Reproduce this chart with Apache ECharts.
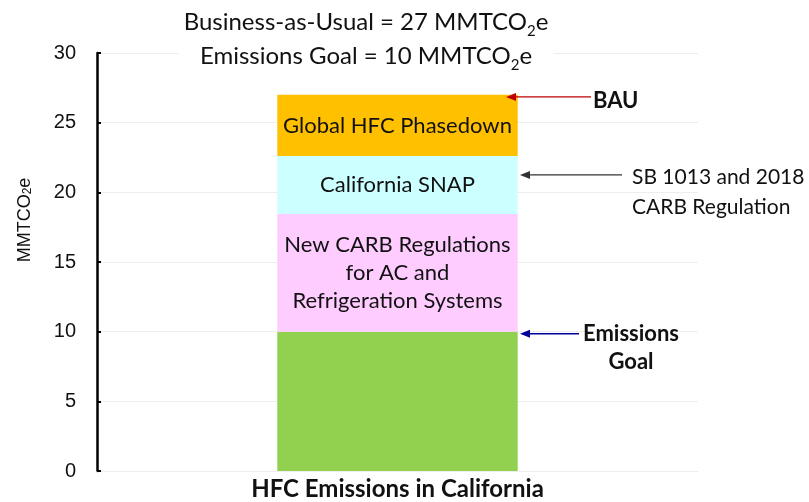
<!DOCTYPE html>
<html>
<head>
<meta charset="utf-8">
<script src="https://cdn.jsdelivr.net/npm/echarts@6/dist/echarts.min.js"></script>
<style>
  html, body { margin: 0; padding: 0; background: #fff; }
  #main { width: 809px; height: 502px; }
</style>
</head>
<body>
<div id="main"></div>
<script>
// categories and stacked segment sizes (MMTCO2e), bottom to top
const categories = ['HFC Emissions in California'];
const segmentNames = ['Emissions Goal', 'New CARB Regulations\nfor AC and\nRefrigeration Systems', 'California SNAP', 'Global HFC Phasedown'];
const segmentValues = [10, 8.45, 4.15, 4.4];
const segmentColors = ['#92D050', '#FFCCFF', '#CCFFFF', '#FFC000'];
const segmentShowLabel = [false, true, true, true];
const yTicks = [0, 5, 10, 15, 20, 25, 30];

// arrow annotations: text, value they point at, colour
const noteTexts = ['{b|BAU}', '{n|SB 1013 and 2018}\n{n|CARB Regulation}', '{b|Emissions}\n{b|Goal}'];
const noteValues = [26.85, 21.25, 9.85];
const noteColors = ['#C00000', '#333333', '#000099'];

const font = 'Lato, "Open Sans", sans-serif';
const arial = '"Liberation Sans", Arial, sans-serif';

const chart = echarts.init(document.getElementById('main'));

const series = segmentNames.map((name, i) => ({
  name: name,
  type: 'bar',
  stack: 'total',
  barWidth: '40%',
  itemStyle: { color: segmentColors[i] },
  label: {
    show: segmentShowLabel[i],
    position: 'inside',
    formatter: '{a}',
    color: '#111',
    fontFamily: font,
    fontSize: 22,
    lineHeight: 28
  },
  data: [segmentValues[i]]
}));

const option = {
  animation: false,
  title: {
    text: 'Business-as-Usual = 27 MMTCO{s|2}e\nEmissions Goal = 10 MMTCO{s|2}e',
    left: 361,
    top: 3,
    textAlign: 'center',
    padding: [2, 5],
    backgroundColor: '#fff',
    textStyle: {
      fontFamily: font,
      fontSize: 24,
      fontWeight: 'normal',
      color: '#111',
      lineHeight: 34,
      rich: {
        s: { fontFamily: font, fontSize: 15, verticalAlign: 'bottom', lineHeight: 24, color: '#111' }
      }
    }
  },
  grid: { left: 97, right: 111, top: 53, bottom: 31 },
  xAxis: {
    type: 'category',
    data: categories,
    axisLine: { lineStyle: { color: '#eeeeee', width: 1 } },
    axisTick: { show: false },
    axisLabel: {
      margin: 6,
      color: '#111',
      fontFamily: font,
      fontSize: 24,
      fontWeight: 'bold'
    }
  },
  yAxis: {
    type: 'value',
    min: 0,
    max: 30,
    interval: 5,
    name: 'MMTCO{s|2}e',
    nameLocation: 'middle',
    nameRotate: 90,
    nameGap: 63,
    nameTextStyle: {
      fontFamily: arial,
      fontSize: 18,
      color: '#111',
      padding: [0, 0, 0, 84],
      rich: {
        s: { fontFamily: arial, fontSize: 12, color: '#111', verticalAlign: 'bottom' }
      }
    },
    axisLine: { show: true, lineStyle: { color: '#000', width: 2.5 } },
    axisTick: { show: true, inside: true, length: 4, lineStyle: { color: '#000', width: 2 } },
    axisLabel: {
      margin: 21,
      color: '#111',
      fontFamily: arial,
      fontSize: 20,
      formatter: v => yTicks.indexOf(v) >= 0 ? String(v) : ''
    },
    splitLine: { show: true, lineStyle: { color: '#eeeeee', width: 1 } }
  },
  series: series
};

chart.setOption(option);

// arrows and their labels, placed via the chart's own y scale
const arrowStartX = [591, 622, 579];
const arrowEndX = [506, 520, 520];
const textX = [593, 632, 631];
const textAlign = ['left', 'left', 'center'];
const textDy = [4, 17, 14];

const graphics = [];
noteValues.forEach((v, i) => {
  const y = chart.convertToPixel({ yAxisIndex: 0 }, v);
  const x1 = arrowStartX[i], x2 = arrowEndX[i];
  graphics.push({
    type: 'line',
    shape: { x1: x1, y1: y, x2: x2 + 8, y2: y },
    style: { stroke: noteColors[i], lineWidth: 1.3 },
    z: 100
  });
  graphics.push({
    type: 'polygon',
    shape: { points: [[x2, y], [x2 + 10, y - 4], [x2 + 10, y + 4]] },
    style: { fill: noteColors[i] },
    z: 100
  });
  graphics.push({
    type: 'text',
    x: textX[i],
    y: y + textDy[i],
    style: {
      text: noteTexts[i],
      align: textAlign[i],
      verticalAlign: 'middle',
      fill: '#111',
      rich: {
        b: { fontFamily: font, fontSize: 22, fontWeight: 'bold', lineHeight: 28, fill: '#111' },
        n: { fontFamily: font, fontSize: 21, lineHeight: 30, fill: '#111' }
      }
    },
    z: 100
  });
});
chart.setOption({ graphic: graphics });
</script>
</body>
</html>
